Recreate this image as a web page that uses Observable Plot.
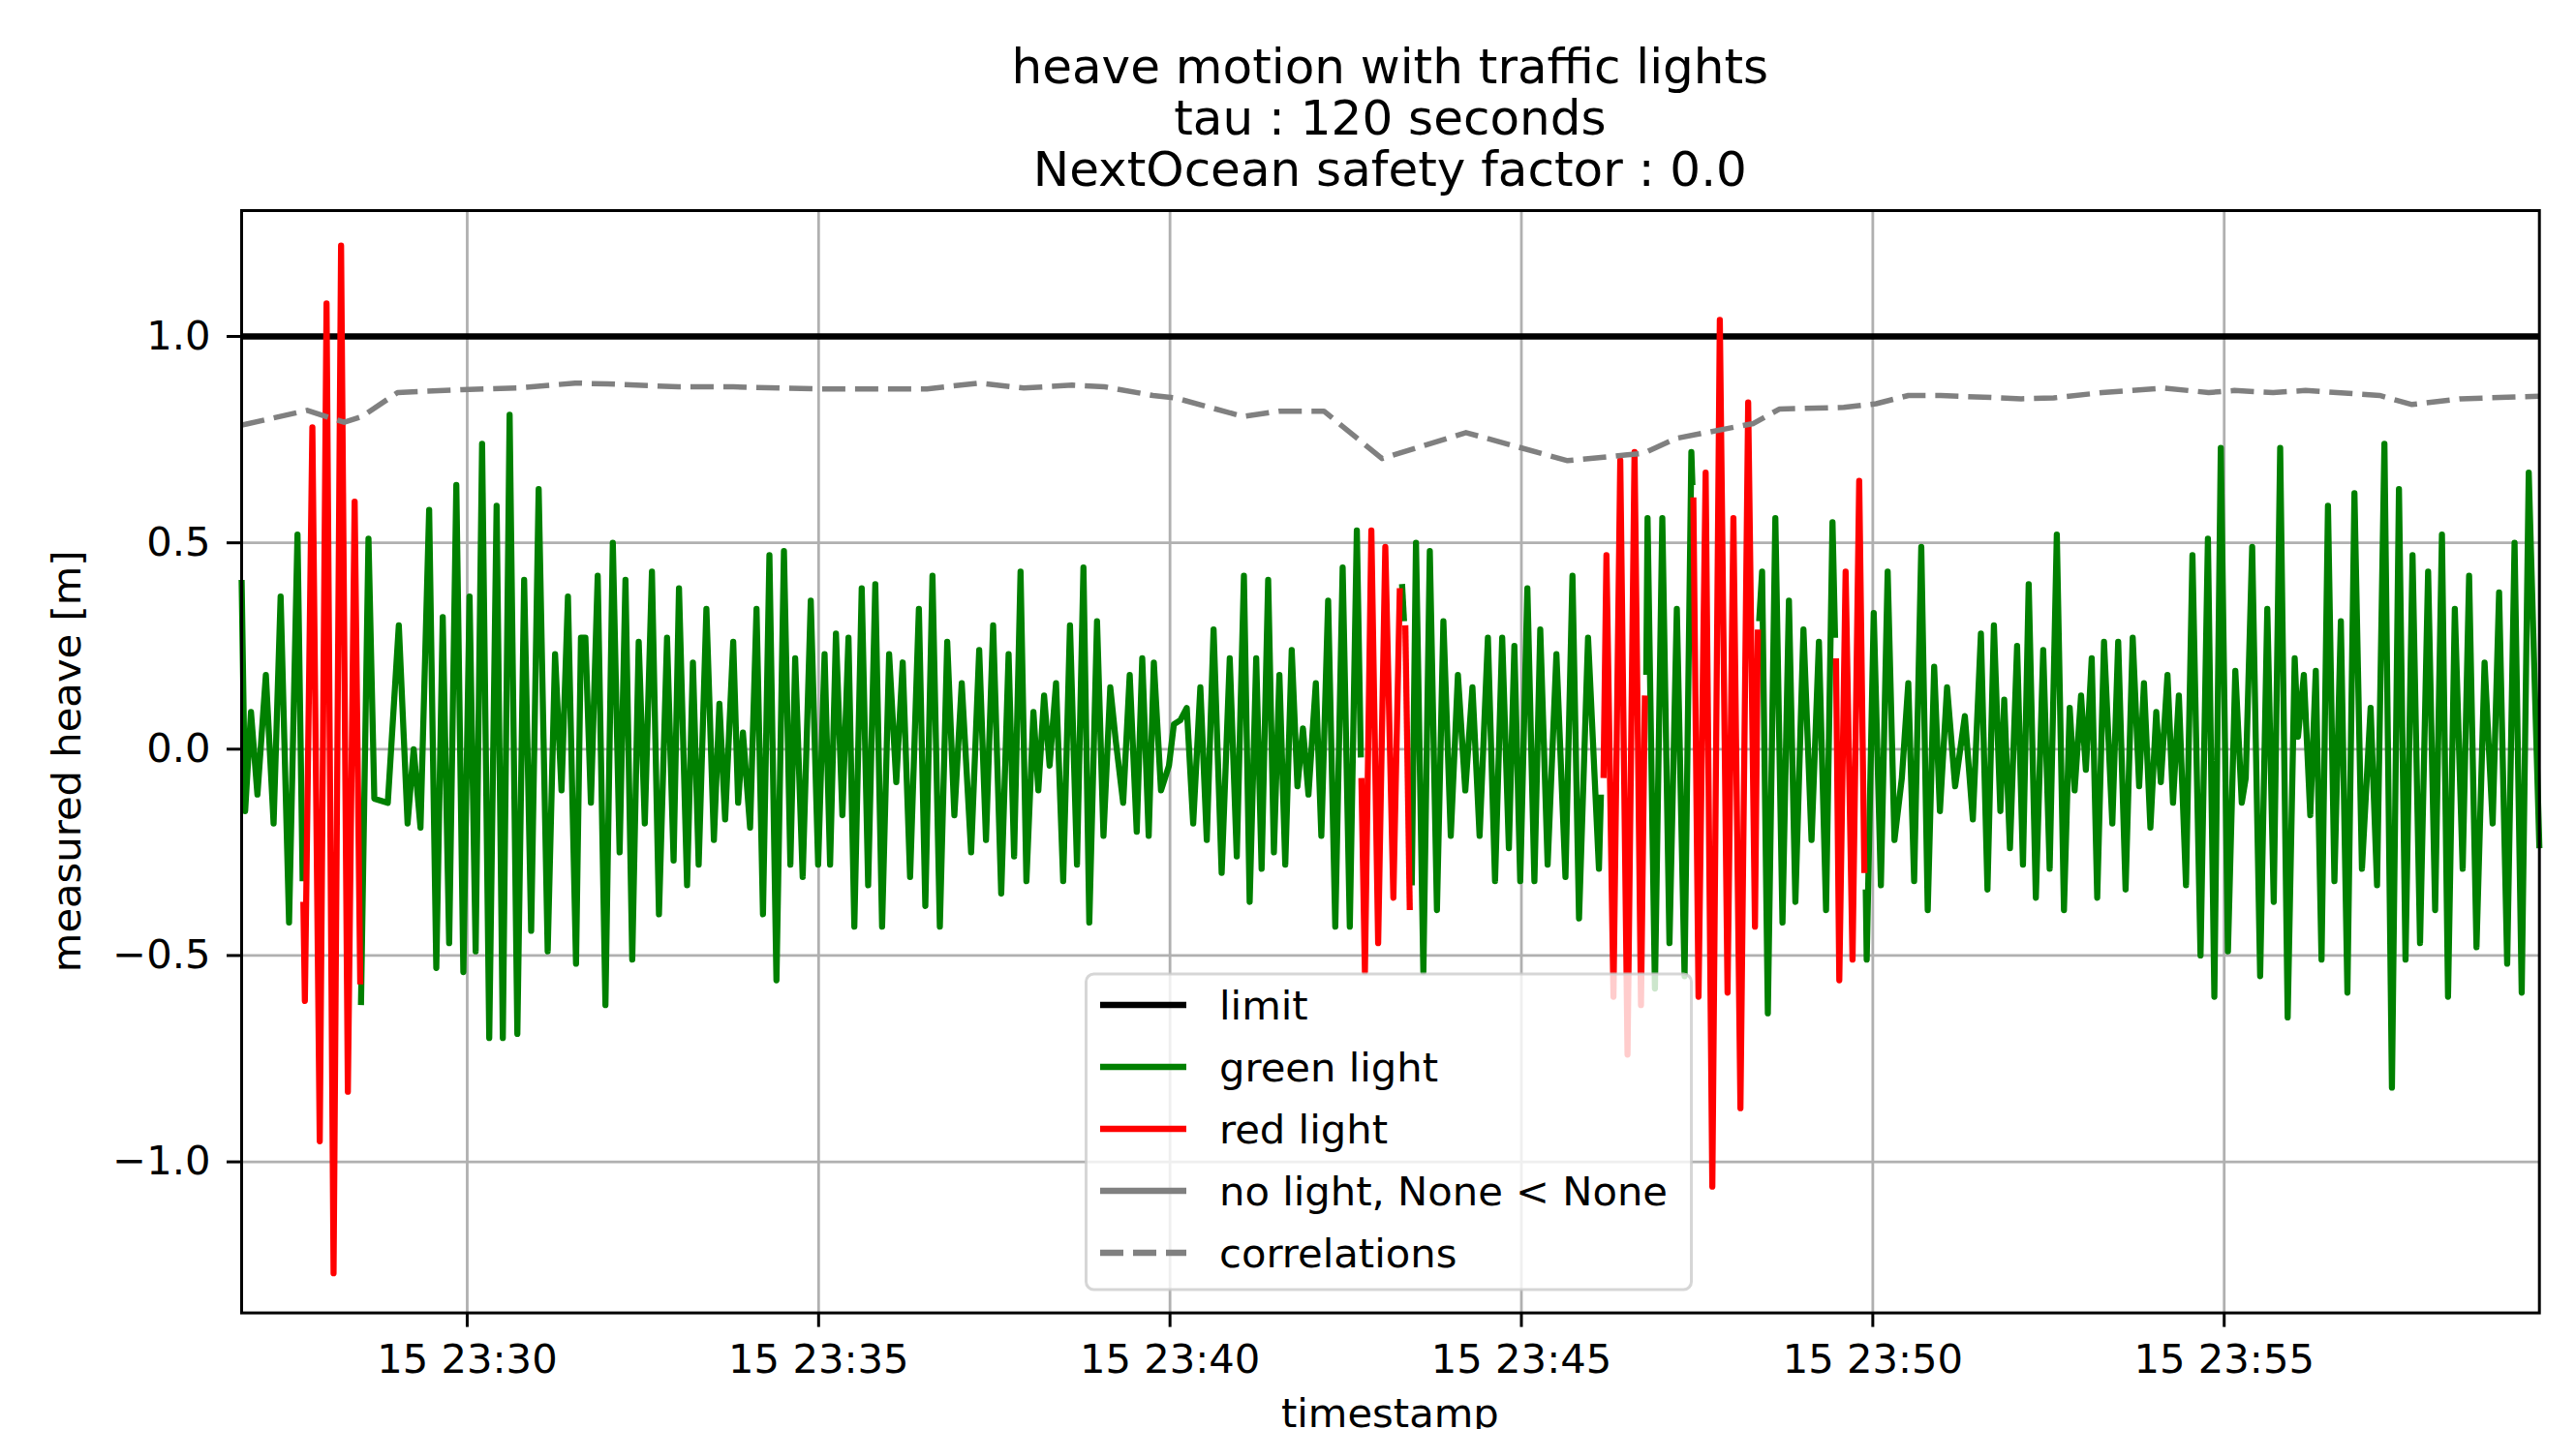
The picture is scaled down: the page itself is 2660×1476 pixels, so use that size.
<!DOCTYPE html>
<html>
<head>
<meta charset="utf-8">
<script src="https://cdn.jsdelivr.net/npm/d3@7"></script>
<script src="https://cdn.jsdelivr.net/npm/@observablehq/plot@0.6"></script>
<style>
html, body { margin: 0; padding: 0; background: #fff; }
#chart { width: 2660px; height: 1476px; }
</style>
</head>
<body>
<div id="chart"></div>
<script>
// ---------------- data ----------------
const startTime = "2021-11-15T23:26:47.400Z";

const titleLines = ["heave motion with traffic lights", "tau : 120 seconds", "NextOcean safety factor : 0.0"];
const xLabel = "timestamp";
const yLabel = "measured heave [m]";
const yTicks = [-1.0, -0.5, 0.0, 0.5, 1.0];
const xTickMinutes = 5;
const limitValue = 1.0;

// heave motion: seconds after startTime, metres
const heaveSeconds = [
  0, 3.0, 8.0, 13.5, 20.7, 27.3, 33.3, 40.5, 47.7, 52.1,
  52.7, 54.0, 60.4, 66.7, 72.5, 78.5, 84.9, 90.7, 96.5, 101.3,
  101.9, 108.3, 113.3, 124.8, 134.2, 141.7, 146.9, 152.7, 160.1, 166.2,
  171.7, 177.2, 183.3, 189.3, 194.6, 199.8, 205.3, 211.4, 217.7, 223.0,
  228.8, 235.4, 241.2, 247.2, 253.6, 261.3, 267.6, 273.1, 278.6, 285.5,
  289.7, 293.5, 298.2, 304.0, 310.6, 316.9, 322.7, 327.7, 333.5, 339.0,
  344.2, 350.3, 356.3, 363.2, 368.8, 373.4, 380.3, 385.3, 390.2, 396.8,
  403.2, 407.9, 412.8, 419.7, 423.9, 428.0, 434.1, 439.6, 445.1, 450.6,
  456.6, 463.0, 468.5, 472.6, 479.0, 485.9, 492.2, 497.7, 502.4, 507.4,
  512.9, 518.1, 523.1, 529.4, 534.9, 541.0, 546.8, 552.8, 558.9, 564.4,
  570.7, 578.2, 583.7, 589.8, 596.1, 602.4, 608.5, 614.8, 622.8, 629.7,
  635.5, 641.6, 648.5, 654.8, 659.5, 665.0, 670.0, 676.0, 680.2, 685.1,
  689.8, 695.3, 701.4, 707.2, 713.2, 718.7, 723.7, 730.3, 735.8, 741.6,
  746.3, 752.6, 758.2, 764.2, 768.9, 774.4, 778.8, 784.9, 791.7, 795.9,
  801.4, 806.9, 812.4, 818.5, 824.0, 829.8, 836.7, 843.6, 849.6, 855.7,
  860.6, 866.2, 870.8, 876.4, 881.3, 886.0, 891.0, 896.5, 901.4, 906.1,
  910.8, 917.1, 921.8, 927.6, 933.7, 940.0, 946.1, 952.1, 955.5,
  956.0, 959.0, 964.5, 970.3, 976.4, 983.3, 988.8,
  990.7, 992.4,
  993.5, 997.3,
  999.0, 1002.6, 1008.9, 1014.4, 1020.5, 1026.0, 1032.3, 1038.4, 1044.7, 1050.8,
  1056.9, 1064.0, 1070.1, 1076.2, 1081.9, 1086.6, 1091.6, 1097.7, 1103.7, 1108.7,
  1115.0, 1122.5, 1130.2, 1136.2, 1141.8, 1149.5, 1158.8, 1160.5,
  1162.7, 1165.2, 1171.2, 1177.0, 1183.2, 1189.2, 1194.7, 1198.0,
  1199.2, 1200.3, 1206.6, 1212.9, 1219.0, 1225.3, 1231.9, 1237.7, 1238.6,
  1239.4, 1243.8, 1249.9, 1255.6, 1262.0, 1268.6, 1273.6, 1279.6, 1286.2, 1292.0, 1294.5,
  1295.6, 1298.1, 1303.0, 1309.4, 1315.5, 1321.0, 1326.5, 1333.4, 1340.3, 1346.6, 1352.7, 1358.2, 1360.4,
  1361.2, 1364.0, 1369.4, 1375.3, 1381.0, 1385.4,
  1386.6, 1387.4, 1393.4, 1399.5, 1405.3, 1411.1, 1417.4, 1422.9, 1427.9, 1434.0,
  1439.5, 1445.0, 1449.9, 1456.0, 1462.9, 1471.2, 1478.0, 1484.9, 1490.5, 1496.0,
  1501.5, 1504.8, 1509.7, 1515.8, 1520.8, 1525.7, 1531.8, 1538.1, 1543.6, 1549.7,
  1555.8, 1560.7, 1564.9, 1570.4, 1574.5, 1579.5, 1584.2, 1590.0, 1597.1, 1602.1,
  1608.4, 1614.5, 1620.0, 1624.1, 1629.6, 1634.6, 1638.5, 1644.2, 1648.9, 1653.9,
  1660.0, 1665.5, 1672.4, 1678.7, 1684.2, 1689.7, 1695.8, 1702.1, 1707.6, 1711.0,
  1716.5, 1723.3, 1729.4, 1734.9, 1740.4, 1746.8, 1752.8, 1755.6, 1760.6, 1766.1,
  1770.8, 1775.7, 1781.2, 1786.7, 1792.2, 1797.8, 1803.8, 1810.2, 1817.6, 1823.1,
  1829.4, 1835.8, 1841.8, 1847.4, 1853.4, 1859.8, 1866.7, 1872.7, 1878.5, 1883.7,
  1889.5, 1896.2, 1901.7, 1908.0, 1914.9, 1921.8, 1927.3, 1934.2, 1940.5, 1946.6,
  1952.6, 1961.7
];
const heaveMetres = [
  0.41, -0.15, 0.09, -0.11, 0.18, -0.18, 0.37, -0.42, 0.52, -0.32,
  -0.37, -0.61, 0.78, -0.95, 1.08, -1.27, 1.22, -0.83, 0.60, -0.57,
  -0.62, 0.51, -0.12, -0.13, 0.30, -0.18, 0.00, -0.19, 0.58, -0.53,
  0.32, -0.47, 0.64, -0.54, 0.37, -0.49, 0.74, -0.70, 0.59, -0.70,
  0.81, -0.69, 0.41, -0.44, 0.63, -0.49, 0.23, -0.10, 0.37, -0.52,
  0.27, 0.27, -0.13, 0.42, -0.62, 0.50, -0.25, 0.41, -0.51, 0.26,
  -0.18, 0.43, -0.40, 0.27, -0.27, 0.39, -0.33, 0.21, -0.28, 0.34,
  -0.22, 0.11, -0.17, 0.26, -0.13, 0.04, -0.19, 0.34, -0.40, 0.47,
  -0.56, 0.48, -0.28, 0.22, -0.31, 0.36, -0.28, 0.23, -0.28, 0.28,
  -0.16, 0.27, -0.43, 0.39, -0.33, 0.40, -0.43, 0.23, -0.08, 0.21,
  -0.31, 0.34, -0.38, 0.42, -0.43, 0.26, -0.16, 0.16, -0.25, 0.24,
  -0.22, 0.30, -0.35, 0.23, -0.26, 0.43, -0.32, 0.09, -0.10, 0.13,
  -0.04, 0.16, -0.32, 0.30, -0.28, 0.44, -0.42, 0.31, -0.21, 0.15,
  0.02, -0.13, 0.18, -0.20, 0.22, -0.21, 0.21, -0.10, -0.04, 0.06,
  0.07, 0.10, -0.18, 0.15, -0.22, 0.29, -0.30, 0.22, -0.26, 0.42,
  -0.37, 0.22, -0.29, 0.41, -0.25, 0.18, -0.28, 0.24, -0.09, 0.05,
  -0.11, 0.16, -0.21, 0.36, -0.43, 0.44, -0.43, 0.53, -0.02,
  -0.07, -0.54, 0.53, -0.47, 0.49, -0.36, 0.39,
  0.40, 0.31,
  0.30, -0.39,
  -0.33, 0.50, -0.54, 0.48, -0.39, 0.31, -0.21, 0.18, -0.10, 0.15,
  -0.21, 0.27, -0.32, 0.27, -0.24, 0.25, -0.32, 0.39, -0.32, 0.29,
  -0.28, 0.23, -0.31, 0.42, -0.41, 0.27, -0.29, -0.11,
  -0.07, 0.47, -0.60, 0.70, -0.74, 0.72, -0.62, 0.13,
  0.18, 0.56, -0.58, 0.56, -0.47, 0.34, -0.55, 0.72, 0.64,
  0.61, -0.60, 0.67, -1.06, 1.04, -0.59, 0.56, -0.87, 0.84, -0.43, 0.29,
  0.31, 0.43, -0.64, 0.56, -0.42, 0.36, -0.37, 0.29, -0.22, 0.26, -0.39, 0.55, 0.27,
  0.22, -0.56, 0.43, -0.51, 0.65, -0.30,
  -0.34, -0.51, 0.33, -0.33, 0.43, -0.22, -0.07, 0.16, -0.32, 0.49,
  -0.39, 0.20, -0.15, 0.15, -0.09, 0.08, -0.17, 0.28, -0.34, 0.30,
  -0.15, 0.12, -0.24, 0.25, -0.28, 0.40, -0.36, 0.24, -0.29, 0.52,
  -0.39, 0.10, -0.10, 0.13, -0.05, 0.22, -0.36, 0.26, -0.18, 0.26,
  -0.34, 0.27, -0.09, 0.16, -0.19, 0.09, -0.08, 0.18, -0.13, 0.13,
  -0.33, 0.47, -0.50, 0.51, -0.60, 0.73, -0.49, 0.19, -0.13, -0.07,
  0.49, -0.55, 0.34, -0.37, 0.73, -0.65, 0.22, 0.03, 0.18, -0.16,
  0.19, -0.51, 0.59, -0.32, 0.31, -0.59, 0.62, -0.29, 0.10, -0.33,
  0.74, -0.82, 0.63, -0.51, 0.47, -0.47, 0.43, -0.39, 0.52, -0.60,
  0.34, -0.29, 0.42, -0.48, 0.21, -0.18, 0.38, -0.52, 0.50, -0.59,
  0.67, -0.24
];
// periods (seconds after startTime) with a red traffic light
const redLightIntervals = [[52.5, 101.6], [955.8, 989.5], [993.0, 998.0], [1161.0, 1198.6], [1239.0, 1295.0], [1360.8, 1386.0]];

// correlations (dashed)
const corrSeconds = [
  0, 56, 87.6, 102.8, 133.1, 188.2, 235.1, 284.7, 312.2, 372.9,
  419.7, 488.6, 585.1, 629.2, 667.8, 709.1, 736.7, 778, 797.3, 855.1,
  885.5, 924, 973.6, 1045.3, 1132, 1183, 1197, 1224.5, 1263.1, 1290.7,
  1312.7, 1367.8, 1395.4, 1423, 1450.5, 1519.4, 1547, 1588.3, 1640.7, 1679.3,
  1701.3, 1734.4, 1762, 1825.3, 1852.9, 1894.2, 1961.7
];
const corrValues = [
  0.785, 0.821, 0.792, 0.806, 0.864, 0.871, 0.875, 0.887, 0.885, 0.878,
  0.878, 0.873, 0.873, 0.887, 0.875, 0.882, 0.878, 0.857, 0.851, 0.806,
  0.819, 0.819, 0.704, 0.767, 0.699, 0.713, 0.717, 0.753, 0.774, 0.789,
  0.824, 0.828, 0.837, 0.857, 0.857, 0.849, 0.851, 0.864, 0.875, 0.864,
  0.869, 0.864, 0.869, 0.857, 0.835, 0.849, 0.855
];

const legendItems = [
  {label: "limit", color: "#000000", dash: null},
  {label: "green light", color: "#008000", dash: null},
  {label: "red light", color: "#ff0000", dash: null},
  {label: "no light, None < None", color: "#808080", dash: null},
  {label: "correlations", color: "#808080", dash: "24,10"}
];

// ---------------- build ----------------
const t0 = new Date(startTime).getTime();
const toDate = s => new Date(t0 + s * 1000);
const isRed = s => redLightIntervals.some(([a, b]) => s >= a && s <= b);

let run = 0, prevLight = null;
const heave = heaveSeconds.map((s, i) => {
  const light = isRed(s) ? "red" : "green";
  if (prevLight !== null && light !== prevLight) run++;
  prevLight = light;
  return {t: toDate(s), v: heaveMetres[i], light, run};
});
const corr = corrSeconds.map((s, i) => ({t: toDate(s), v: corrValues[i]}));

const xDomain = [toDate(heaveSeconds[0]), toDate(heaveSeconds[heaveSeconds.length - 1])];
const xTicks = d3.utcMinute.every(xTickMinutes).range(xDomain[0], xDomain[1]);

const FS = 41.7;
const LW = 6.3;
const plot = Plot.plot({
  width: 2660,
  height: 1476,
  marginLeft: 249,
  marginRight: 38.3,
  marginTop: 217,
  marginBottom: 120.4,
  style: {fontFamily: "DejaVu Sans", fontSize: FS + "px", background: "white", color: "black"},
  x: {type: "utc", domain: xDomain, label: null},
  y: {domain: [-1.366, 1.305], label: null},
  marks: [
    Plot.gridX({ticks: xTicks, stroke: "#b0b0b0", strokeOpacity: 1, strokeWidth: 2.8}),
    Plot.gridY({ticks: yTicks, stroke: "#b0b0b0", strokeOpacity: 1, strokeWidth: 2.8}),
    Plot.ruleY([limitValue], {stroke: "black", strokeWidth: LW}),
    Plot.line(heave.filter(d => d.light === "green"), {x: "t", y: "v", z: "run", stroke: "#008000", strokeWidth: LW, strokeLinejoin: "round", strokeLinecap: "butt"}),
    Plot.line(heave.filter(d => d.light === "red"), {x: "t", y: "v", z: "run", stroke: "#ff0000", strokeWidth: LW, strokeLinejoin: "round", strokeLinecap: "butt"}),
    Plot.line(corr, {x: "t", y: "v", stroke: "#808080", strokeWidth: 5.5, strokeDasharray: "24,10", strokeLinecap: "butt"}),
    Plot.frame({stroke: "black", strokeWidth: 3}),
    Plot.axisX({ticks: xTicks, tickFormat: d3.utcFormat("%d %H:%M"), tickSize: 15, tickPadding: 17, fontSize: FS, strokeWidth: 3, label: null}),
    Plot.axisY({ticks: yTicks, tickFormat: d3.format(".1f"), tickSize: 15, tickPadding: 17, fontSize: FS, strokeWidth: 3, label: null})
  ]
});

document.getElementById("chart").appendChild(plot);

// titles, axis labels, legend
const svg = d3.select(plot);
const xr = plot.scale("x").range;
const yr = plot.scale("y").range;
const cx = (xr[0] + xr[1]) / 2;
const cy = (yr[0] + yr[1]) / 2;

const titleBaselines = [86, 139, 192];
titleLines.forEach((line, i) => {
  svg.append("text")
    .attr("x", cx).attr("y", titleBaselines[i])
    .attr("text-anchor", "middle")
    .attr("font-family", "DejaVu Sans")
    .attr("font-size", 50)
    .attr("fill", "black")
    .text(line);
});

svg.append("text")
  .attr("x", cx).attr("y", 1474)
  .attr("text-anchor", "middle")
  .attr("font-family", "DejaVu Sans")
  .attr("font-size", FS)
  .attr("fill", "black")
  .text(xLabel);

svg.append("text")
  .attr("transform", `translate(83,${cy}) rotate(-90)`)
  .attr("text-anchor", "middle")
  .attr("font-family", "DejaVu Sans")
  .attr("font-size", FS)
  .attr("fill", "black")
  .text(yLabel);

const lg = svg.append("g");
lg.append("rect")
  .attr("x", 1121.5).attr("y", 1006).attr("width", 625).attr("height", 326)
  .attr("rx", 8)
  .attr("fill", "white").attr("fill-opacity", 0.8)
  .attr("stroke", "#cccccc").attr("stroke-opacity", 0.8).attr("stroke-width", 3);
legendItems.forEach((item, i) => {
  const y = 1038 + i * 64;
  lg.append("line")
    .attr("x1", 1136).attr("x2", 1225).attr("y1", y).attr("y2", y)
    .attr("stroke", item.color).attr("stroke-width", LW)
    .attr("stroke-dasharray", item.dash);
  lg.append("text")
    .attr("x", 1259).attr("y", y + 15)
    .attr("text-anchor", "start")
    .attr("font-family", "DejaVu Sans")
    .attr("font-size", FS)
    .attr("fill", "black")
    .text(item.label);
});
</script>
</body>
</html>
